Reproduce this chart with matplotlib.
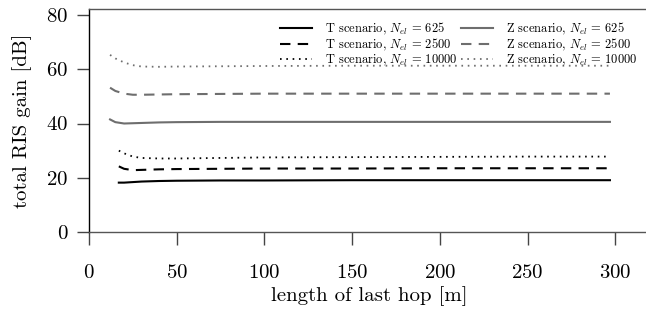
import matplotlib
matplotlib.use("Agg")
import matplotlib.pyplot as plt

plt.rcParams['font.family'] = ['cmr10', 'DejaVu Serif']
plt.rcParams['mathtext.fontset'] = 'cm'
plt.rcParams['axes.formatter.use_mathtext'] = True

# data
x_T = [17, 20, 25, 30, 40, 50, 75, 100, 150, 200, 250, 297]
T_625 = [18.2, 18.2, 18.4, 18.6, 18.8, 18.9, 19.0, 19.0, 19.1, 19.1, 19.1, 19.1]
T_2500 = [24.2, 23.3, 22.8, 22.9, 23.1, 23.2, 23.3, 23.4, 23.4, 23.5, 23.5, 23.5]
T_10000 = [30.0, 29.0, 27.8, 27.3, 27.1, 27.1, 27.3, 27.5, 27.6, 27.7, 27.8, 27.8]

x_Z = [12, 15, 20, 25, 30, 40, 50, 75, 100, 150, 200, 250, 297]
Z_625 = [41.5, 40.5, 40.0, 40.1, 40.2, 40.4, 40.5, 40.6, 40.6, 40.6, 40.6, 40.6, 40.6]
Z_2500 = [53.2, 52.0, 51.0, 50.6, 50.6, 50.7, 50.8, 50.9, 51.0, 51.0, 51.0, 51.0, 51.0]
Z_10000 = [65.3, 64.0, 62.5, 61.5, 61.0, 60.9, 61.0, 61.1, 61.2, 61.3, 61.3, 61.3, 61.3]

x_ticks = [0, 50, 100, 150, 200, 250, 300]
y_ticks = [0, 20, 40, 60, 80]

fig = plt.figure(figsize=(6.46, 3.12), dpi=100)
W, H = 646, 312
left_px, right_px = 89, 650
top_px, bottom_px = 9, 232
ax = fig.add_axes([left_px / W, 1 - bottom_px / H, (right_px - left_px) / W, (bottom_px - top_px) / H])

black = 'black'
gray = '#6e6e6e'
lw = 1.5
dash = (0, (5, 3.5))
dot = (0, (0.9, 2.6))

ax.plot(x_T, T_625, color=black, lw=lw, ls='-', label=r'T scenario, $N_{el}\,=\,625$')
ax.plot(x_T, T_2500, color=black, lw=lw, ls=dash, label=r'T scenario, $N_{el}\,=\,2500$')
ax.plot(x_T, T_10000, color=black, lw=1.3, ls=dot, label=r'T scenario, $N_{el}\,=\,10000$')
ax.plot(x_Z, Z_625, color=gray, lw=lw, ls='-', label=r'Z scenario, $N_{el}\,=\,625$')
ax.plot(x_Z, Z_2500, color=gray, lw=lw, ls=dash, label=r'Z scenario, $N_{el}\,=\,2500$')
ax.plot(x_Z, Z_10000, color=gray, lw=1.3, ls=dot, label=r'Z scenario, $N_{el}\,=\,10000$')

ax.set_xlim(0, (right_px - left_px) / 1.754)
ax.set_ylim(0, (bottom_px - top_px) / 2.7125)
ax.set_xticks(x_ticks)
ax.set_yticks(y_ticks)
ax.tick_params(direction='out', length=9, width=1, color='#444444', labelsize=15)
ax.tick_params(axis='x', pad=14)
ax.tick_params(axis='y', pad=6)
for s in ax.spines.values():
    s.set_linewidth(1)
ax.spines['left'].set_color('black')
ax.spines['bottom'].set_color('#555555')
ax.spines['top'].set_color('#555555')

ax.set_xlabel('length of last hop [m]', fontsize=15, labelpad=3)
ax.set_ylabel('total RIS gain [dB]', fontsize=15, labelpad=10)

ax.legend(ncol=2, frameon=False, fontsize=9, loc='upper right',
          bbox_to_anchor=(646 / W, 1 - 12 / H), bbox_transform=fig.transFigure,
          handlelength=2.6, handletextpad=1.0, columnspacing=0.3,
          labelspacing=0.0, borderpad=0.2)

fig.savefig('out.png', dpi=100)
